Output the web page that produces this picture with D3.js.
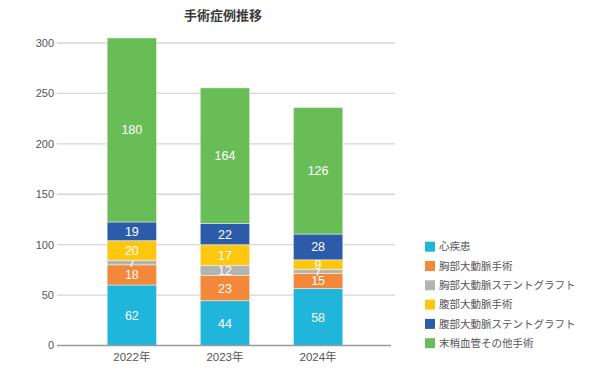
<!DOCTYPE html>
<html>
<head>
<meta charset="utf-8">
<script src="https://cdn.jsdelivr.net/npm/d3@7"></script>
<style>
  body { margin: 0; background: #fff; }
  text { font-family: "Liberation Sans", "Noto Sans CJK JP", sans-serif; }
</style>
</head>
<body>
<script>
let width = 602, height = 392;

// data
let years = ["2022年", "2023年", "2024年"];
let seriesNames = ["心疾患", "胸部大動脈手術", "胸部大動脈ステントグラフト",
                   "腹部大動脈手術", "腹部大動脈ステントグラフト", "末梢血管その他手術"];
let colors = ["#20b6dc", "#f3873a", "#b2b4b2", "#fdc70f", "#2c5ca9", "#69bd56"];

// bar heights as drawn
let heart    = [60, 44.5, 56.5];
let thoracic = [20, 25, 15];
let thorSG   = [4.5, 10, 4];
let abdom    = [19.5, 20.5, 9.5];
let abdSG    = [18.5, 21, 25.5];
let other    = [182.5, 134.5, 125.5];

// numbers printed on the bars
let heartLbl    = [62, 44, 58];
let thoracicLbl = [18, 23, 15];
let thorSGLbl   = [7, 12, 7];
let abdomLbl    = [20, 17, 9];
let abdSGLbl    = [19, 22, 28];
let otherLbl    = [180, 164, 126];

let yTicks = [0, 50, 100, 150, 200, 250, 300];

let series = [heart, thoracic, thorSG, abdom, abdSG, other];
let labels = [heartLbl, thoracicLbl, thorSGLbl, abdomLbl, abdSGLbl, otherLbl];

let rows = years.map((y, i) => {
  let r = { year: y };
  series.forEach((s, k) => r[k] = s[i]);
  return r;
});
let stacked = d3.stack().keys(d3.range(series.length))(rows);

let svg = d3.select("body").append("svg")
    .attr("width", width)
    .attr("height", height);

let x0 = 57, x1 = 395;
let x = d3.scaleBand().domain(years).range([x0, x1])
    .paddingInner(0.47).paddingOuter(0.55).align(0.49);
let y = d3.scaleLinear().domain([0, 300]).range([345.5, 43]);

// title
svg.append("text")
    .attr("x", 223).attr("y", 20)
    .attr("text-anchor", "middle")
    .attr("font-size", 13).attr("font-weight", "bold")
    .attr("fill", "#3a3a3a")
    .text("手術症例推移");

// grid
svg.append("g").selectAll("line")
  .data(yTicks.filter(d => d > 0))
  .enter().append("line")
    .attr("x1", x0).attr("x2", x1)
    .attr("y1", d => y(d)).attr("y2", d => y(d))
    .attr("stroke", "#d6d6d6").attr("stroke-width", 1.3);

svg.append("g").selectAll("text")
  .data(yTicks)
  .enter().append("text")
    .attr("x", 54).attr("y", d => y(d))
    .attr("dy", "0.35em")
    .attr("text-anchor", "end")
    .attr("font-size", 11).attr("fill", "#555")
    .text(d => d);

// bars
let layer = svg.append("g").selectAll("g")
  .data(stacked)
  .enter().append("g")
    .attr("fill", (d, k) => colors[k]);

layer.selectAll("rect")
  .data(d => d)
  .enter().append("rect")
    .attr("x", d => x(d.data.year))
    .attr("y", d => y(d[1]))
    .attr("width", x.bandwidth())
    .attr("height", d => y(d[0]) - y(d[1]))
    .attr("stroke", "rgba(255,255,255,0.45)")
    .attr("stroke-width", 1);

layer.selectAll("text")
  .data((d, k) => d.map((v, i) => ({ v: v, lbl: labels[k][i] })))
  .enter().append("text")
    .attr("x", d => x(d.v.data.year) + x.bandwidth() / 2)
    .attr("y", d => y((d.v[0] + d.v[1]) / 2))
    .attr("dy", "0.36em")
    .attr("text-anchor", "middle")
    .attr("font-size", 12.5)
    .attr("fill", "#fff")
    .text(d => d.lbl);

// baseline
svg.append("line")
    .attr("x1", x0).attr("x2", 391)
    .attr("y1", y(0)).attr("y2", y(0))
    .attr("stroke", "#9a9a9a").attr("stroke-width", 1.5);

svg.append("g").selectAll("text")
  .data(years)
  .enter().append("text")
    .attr("x", d => x(d) + x.bandwidth() / 2)
    .attr("y", 357)
    .attr("dy", "0.35em")
    .attr("text-anchor", "middle")
    .attr("font-size", 11.5).attr("fill", "#555")
    .text(d => d);

// legend
let legend = svg.append("g").selectAll("g")
  .data(seriesNames)
  .enter().append("g")
    .attr("transform", (d, i) => `translate(425, ${246.7 + i * 19.3})`);

legend.append("rect")
    .attr("x", 0).attr("y", -5)
    .attr("width", 10).attr("height", 10)
    .attr("fill", (d, i) => colors[i]);

legend.append("text")
    .attr("x", 14).attr("dy", "0.35em")
    .attr("font-size", 10.5).attr("fill", "#555")
    .text(d => d);
</script>
</body>
</html>
